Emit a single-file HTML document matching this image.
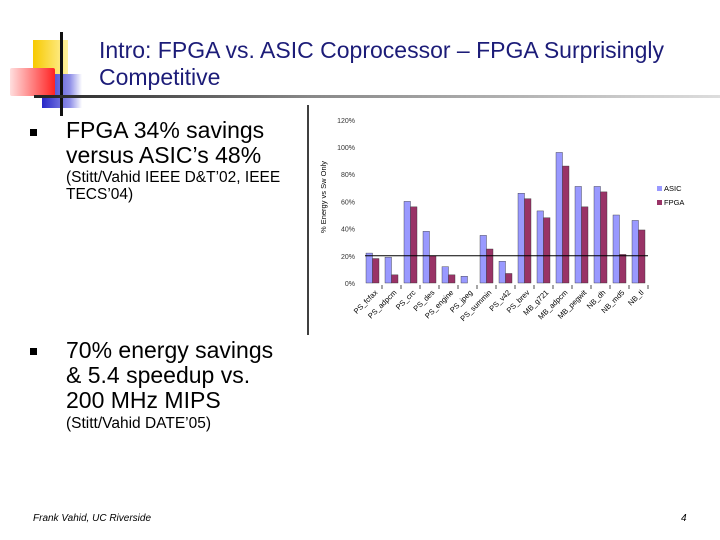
<!DOCTYPE html>
<html><head><meta charset="utf-8"><style>
body{margin:0;width:720px;height:540px;background:#fff;position:relative;overflow:hidden;font-family:"Liberation Sans",sans-serif}
.abs{position:absolute}
.t{color:#1c1c78;font-size:23px;line-height:27px}
.b{font-size:23px;line-height:25px;color:#000}
.s{font-size:15.5px;line-height:17px;color:#000}
.bul{position:absolute;width:7px;height:7px;background:#000;left:30px}
</style></head><body>
<div class="abs" style="left:33px;top:40px;width:35px;height:35px;background:linear-gradient(90deg,#f7c900,#fff2a0)"></div>
<div class="abs" style="left:42px;top:74px;width:40px;height:34px;background:linear-gradient(90deg,#2727c8,#9090e8 70%,#fff)"></div>
<div class="abs" style="left:10px;top:68px;width:45px;height:28px;background:linear-gradient(90deg,#ffdede,#f22);border-radius:2px"></div>
<div class="abs" style="left:60px;top:32px;width:3px;height:84px;background:#111"></div>
<div class="abs" style="left:34px;top:95px;width:686px;height:3px;background:linear-gradient(90deg,#222,#888 40%,#ddd)"></div>
<div class="abs t" style="left:99px;top:37px">Intro: FPGA vs. ASIC Coprocessor – FPGA Surprisingly<br>Competitive</div>
<div class="bul" style="top:129px"></div>
<div class="abs b" style="left:66px;top:118px">FPGA 34% savings<br>versus ASIC’s 48%</div>
<div class="abs s" style="left:66px;top:169px">(Stitt/Vahid IEEE D&amp;T’02, IEEE<br>TECS’04)</div>
<div class="bul" style="top:348px"></div>
<div class="abs b" style="left:66px;top:338px">70% energy savings<br>&amp; 5.4 speedup vs.<br>200 MHz MIPS</div>
<div class="abs s" style="left:66px;top:415px">(Stitt/Vahid DATE’05)</div>
<div class="abs" style="left:33px;top:513px;font-size:10px;font-style:italic">Frank Vahid, UC Riverside</div>
<div class="abs" style="left:681px;top:513px;font-size:10px;font-style:italic">4</div>
<svg id="chart" class="abs" style="left:0;top:0" width="720" height="540"></svg>
<script>
const categories=["PS_fcfax","PS_adpcm","PS_crc","PS_des","PS_engine","PS_jpeg","PS_summin","PS_v42","PS_brev","MB_g721","MB_adpcm","MB_pegwit","NB_dh","NB_md5","NB_tl"];
const asic=[22,19,60,38,12,5,35,16,66,53,96,71,71,50,46];
const fpga=[18,6,56,20,6,0,25,7,62,48,86,56,67,21,39];
const ticks=[0,20,40,60,80,100,120];
const svg=document.getElementById('chart');const NS='http://www.w3.org/2000/svg';
function mk(t,a,p){const e=document.createElementNS(NS,t);for(const k in a)e.setAttribute(k,a[k]);(p||svg).appendChild(e);return e;}
const x0=363,step=19,y0=283,pp=27.2/20;
const y=v=>y0-v*pp;const xc=i=>x0+i*step;
const bl=mk('line',{x1:308,y1:105,x2:308,y2:335,stroke:'#000','stroke-width':1.5});

ticks.forEach(t=>{const e=mk('text',{x:355,y:y(t)+3,'font-size':7,'text-anchor':'end',fill:'#333'});e.textContent=t+'%';
});
const yt=mk('text',{x:0,y:0,'font-size':7.5,'text-anchor':'middle',transform:'translate(326,197) rotate(-90)'});yt.textContent='% Energy vs Sw Only';

categories.forEach((c,i)=>{
 const a=mk('rect',{x:xc(i)+3,y:y(asic[i]),width:6.5,height:asic[i]*pp,fill:'#9999ff',stroke:'#333','stroke-width':0.4});
 
 const f=mk('rect',{x:xc(i)+9.5,y:y(fpga[i]),width:6.5,height:fpga[i]*pp,fill:'#993366',stroke:'#333','stroke-width':0.4});
 
 const tk=mk('line',{x1:xc(i+1),y1:y0+2,x2:xc(i+1),y2:y0+6,stroke:'#000','stroke-width':0.7});
 
 const l=mk('text',{x:0,y:0,'font-size':7.5,'text-anchor':'end',transform:`translate(${xc(i)+15},${y0+10}) rotate(-45)`});l.textContent=c;
 
});
const g=mk('line',{x1:x0+2,y1:y(20),x2:648,y2:y(20),stroke:'#000','stroke-width':1});

[['ASIC','#9999ff',191],['FPGA','#993366',205]].forEach(([n,c,yy])=>{
 const r=mk('rect',{x:657,y:yy-5,width:5,height:5,fill:c});
 const t=mk('text',{x:664,y:yy,'font-size':7.5});t.textContent=n;
});
</script>
</body></html>
